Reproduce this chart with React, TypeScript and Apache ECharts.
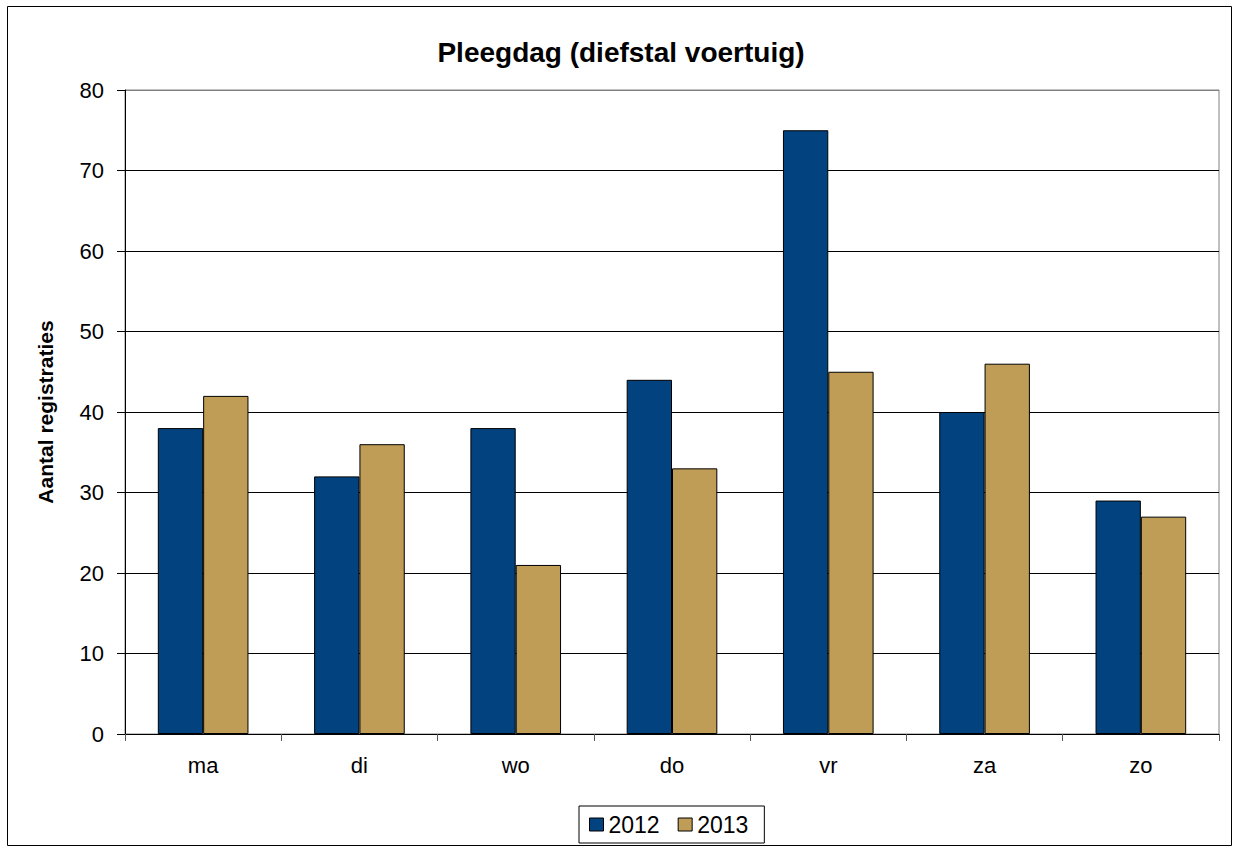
import React, { useEffect, useRef } from "react";
import * as echarts from "echarts";

const categories = ["ma", "di", "wo", "do", "vr", "za", "zo"];
const series2012 = [38, 32, 38, 44, 75, 40, 29];
const series2013 = [42, 36, 21, 33, 45, 46, 27];
const seriesNames = ["2012", "2013"];
const titleText = "Pleegdag (diefstal voertuig)";
const yAxisName = "Aantal registraties";

const FONT = "'Liberation Sans', Arial, sans-serif";

export default function App() {
  const ref = useRef<HTMLDivElement>(null);
  useEffect(() => {
    if (!ref.current) return;
    const chart = echarts.init(ref.current, undefined, { renderer: "svg" });
    chart.setOption({
      animation: false,
      backgroundColor: "#ffffff",
      textStyle: { fontFamily: FONT },
      title: {
        text: titleText,
        left: 616,
        textAlign: "center",
        top: 33,
        textStyle: { fontFamily: FONT, fontSize: 28, fontWeight: "bold", color: "#000" },
      },
      graphic: [
        {
          type: "rect",
          shape: { x: 7.5, y: 6.5, width: 1224, height: 839 },
          style: { fill: "none", stroke: "#000", lineWidth: 1 },
          silent: true,
        },
      ],
      legend: {
        data: seriesNames,
        left: 579,
        top: 806,
        padding: [7, 16, 7, 10],
        itemGap: 18,
        itemWidth: 14,
        itemHeight: 13,
        icon: "rect",
        borderColor: "#000",
        borderWidth: 1,
        textStyle: { fontFamily: FONT, fontSize: 23, color: "#000" },
        itemStyle: { borderColor: "#000", borderWidth: 1 },
      },
      grid: {
        left: 125,
        top: 90,
        right: 15,
        bottom: 114,
        show: true,
        borderColor: "#808080",
        borderWidth: 1,
      },
      xAxis: {
        type: "category",
        data: categories,
        axisLine: { lineStyle: { color: "#000", width: 1 } },
        axisTick: { show: true, length: 7, lineStyle: { color: "#555" }, alignWithLabel: false },
        axisLabel: { fontFamily: FONT, fontSize: 22, color: "#000", margin: 20 },
      },
      yAxis: {
        type: "value",
        min: 0,
        max: 80,
        interval: 10,
        name: yAxisName,
        nameLocation: "middle",
        nameRotate: 90,
        nameGap: 69,
        nameTextStyle: { fontFamily: FONT, fontSize: 21, fontWeight: "bold", color: "#000" },
        axisLine: { show: true, lineStyle: { color: "#000", width: 1 } },
        axisTick: { show: true, length: 8, inside: false, lineStyle: { color: "#000" } },
        axisLabel: { fontFamily: FONT, fontSize: 22, color: "#000", margin: 21 },
        splitLine: {
          show: true,
          lineStyle: {
            color: ["#000", "#000", "#000", "#000", "#000", "#000", "#000", "#000", "#808080"],
            width: 1,
          },
        },
      },
      series: [
        {
          name: seriesNames[0],
          type: "bar",
          data: series2012,
          barGap: "0%",
          barCategoryGap: "42%",
          itemStyle: { color: "#02427F", borderColor: "#000", borderWidth: 1 },
        },
        {
          name: seriesNames[1],
          type: "bar",
          data: series2013,
          barGap: "0%",
          barCategoryGap: "42%",
          itemStyle: { color: "#BF9D56", borderColor: "#000", borderWidth: 1 },
        },
      ],
    });
    return () => chart.dispose();
  }, []);
  return (
    <div
      ref={ref}
      style={{ position: "absolute", left: 0, top: 0, width: 1234, height: 848 }}
    />
  );
}
